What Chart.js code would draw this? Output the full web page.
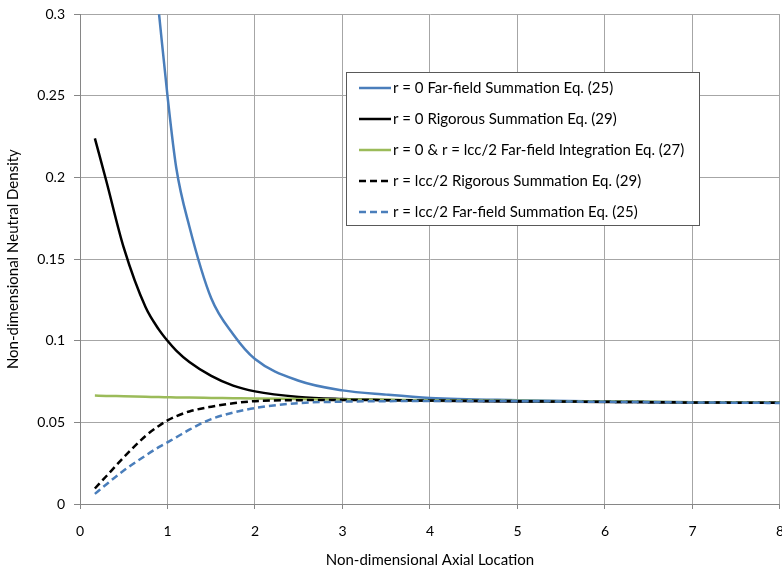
<!DOCTYPE html>
<html>
<head>
<meta charset="utf-8">
<script src="https://cdn.jsdelivr.net/npm/chart.js@4.4.1/dist/chart.umd.min.js"></script>
<style>
  html, body { margin: 0; padding: 0; background: #fff; overflow: hidden; }
  #wrap { width: 792px; height: 570px; position: relative; }
</style>
</head>
<body>
<div id="wrap"><canvas id="density"></canvas></div>
<script>
const axialX = [0.17, 0.3, 0.5, 0.75, 0.9, 1, 1.1, 1.25, 1.5, 1.75, 2, 2.5, 3, 3.5, 4, 5, 6, 7, 8];

const farFieldR0 = [1.5, 0.9, 0.6, 0.38, 0.302, 0.25, 0.206, 0.17, 0.126, 0.104, 0.0888, 0.0755, 0.0696, 0.067, 0.065, 0.0636, 0.0628, 0.0623, 0.062];
const rigorousR0 = [0.224, 0.198, 0.157, 0.1205, 0.107, 0.1, 0.094, 0.087, 0.0785, 0.0725, 0.069, 0.0656, 0.0643, 0.0637, 0.0633, 0.0628, 0.0625, 0.0622, 0.062];
const integration = [0.0664, 0.0662, 0.066, 0.0657, 0.0655, 0.0654, 0.0653, 0.0652, 0.065, 0.0648, 0.0646, 0.0643, 0.064, 0.0638, 0.0636, 0.0632, 0.0628, 0.0624, 0.062];
const rigorousHalf = [0.0095, 0.017, 0.0286, 0.0417, 0.0478, 0.0512, 0.0538, 0.0567, 0.0596, 0.0617, 0.063, 0.0636, 0.0637, 0.0636, 0.0634, 0.063, 0.0626, 0.0622, 0.062];
const farFieldHalf = [0.0062, 0.012, 0.0205, 0.0297, 0.0348, 0.0378, 0.0408, 0.0455, 0.052, 0.056, 0.0588, 0.0618, 0.0627, 0.063, 0.0631, 0.063, 0.0626, 0.0622, 0.0619];

const seriesNames = [
  "r = 0 Far-field Summation Eq. (25)",
  "r = 0 Rigorous Summation Eq. (29)",
  "r = 0 & r = lcc/2 Far-field Integration Eq. (27)",
  "r = lcc/2 Rigorous Summation Eq. (29)",
  "r = lcc/2 Far-field Summation Eq. (25)"
];
const seriesValues = [farFieldR0, rigorousR0, integration, rigorousHalf, farFieldHalf];
const seriesColors = ['#4a7ebb', '#000000', '#9bbb59', '#000000', '#4a7ebb'];
const seriesDash = [[], [], [], [7, 4], [7, 4]];

const FONT = "Lato, 'Open Sans', sans-serif";

const datasets = seriesNames.map((name, i) => ({
  label: name,
  data: axialX.map((x, j) => ({ x: x, y: seriesValues[i][j] })),
  borderColor: seriesColors[i],
  borderWidth: 2.5,
  borderDash: seriesDash[i],
  pointRadius: 0,
  cubicInterpolationMode: 'monotone',
  fill: false,
  order: seriesNames.length - i   // last series ends up on top, as in the original
}));

// legend box drawn inside the plot, like the original
const boxLegend = {
  id: 'boxLegend',
  afterDraw(chart) {
    const c = chart.ctx;
    const left = 346.5, top = 72.5, w = 353, h = 153;
    c.save();
    c.fillStyle = '#fff';
    c.fillRect(left, top, w, h);
    c.strokeStyle = '#595959';
    c.lineWidth = 1;
    c.strokeRect(left, top, w, h);
    c.font = '15px ' + FONT;
    c.textBaseline = 'middle';
    seriesNames.forEach((name, i) => {
      const y = 88 + i * 31;
      c.beginPath();
      c.setLineDash(seriesDash[i]);
      c.strokeStyle = seriesColors[i];
      c.lineWidth = 2.5;
      c.moveTo(359, y);
      c.lineTo(391, y);
      c.stroke();
      c.setLineDash([]);
      c.fillStyle = '#000';
      c.fillText(name, 393, y);
    });
    c.restore();
  }
};

new Chart(document.getElementById('density'), {
  type: 'line',
  data: { datasets: datasets },
  options: {
    responsive: true,
    maintainAspectRatio: false,
    animation: false,
    layout: { padding: 0 },
    plugins: {
      legend: { display: false },
      tooltip: { enabled: false }
    },
    scales: {
      x: {
        type: 'linear',
        min: 0,
        max: 8,
        // tall line height pushes the labels down without widening the right gutter
        ticks: { stepSize: 1, color: '#000', font: { family: FONT, size: 14, lineHeight: 2 }, padding: 8 },
        grid: { color: '#a6a6a6', tickLength: 5, tickColor: '#868686' },
        border: { color: '#868686' },
        title: {
          display: true,
          text: 'Non-dimensional Axial Location',
          color: '#000',
          font: { family: FONT, size: 15 },
          padding: { top: 0, bottom: 1 }
        },
        afterFit(scale) { scale.height = 66; }
      },
      y: {
        min: 0,
        max: 0.3,
        ticks: {
          stepSize: 0.05,
          color: '#000',
          font: { family: FONT, size: 14, lineHeight: 0.75 },
          padding: 9,
          callback: v => String(Number(v.toFixed(2)))
        },
        grid: { color: '#a6a6a6', tickLength: 6, tickColor: '#868686' },
        border: { color: '#868686' },
        title: {
          display: true,
          text: 'Non-dimensional Neutral Density',
          color: '#000',
          font: { family: FONT, size: 15 },
          padding: { top: 4, bottom: 6 }
        },
        afterFit(scale) { scale.width = 80; }
      }
    }
  },
  plugins: [boxLegend]
});
</script>
</body>
</html>
